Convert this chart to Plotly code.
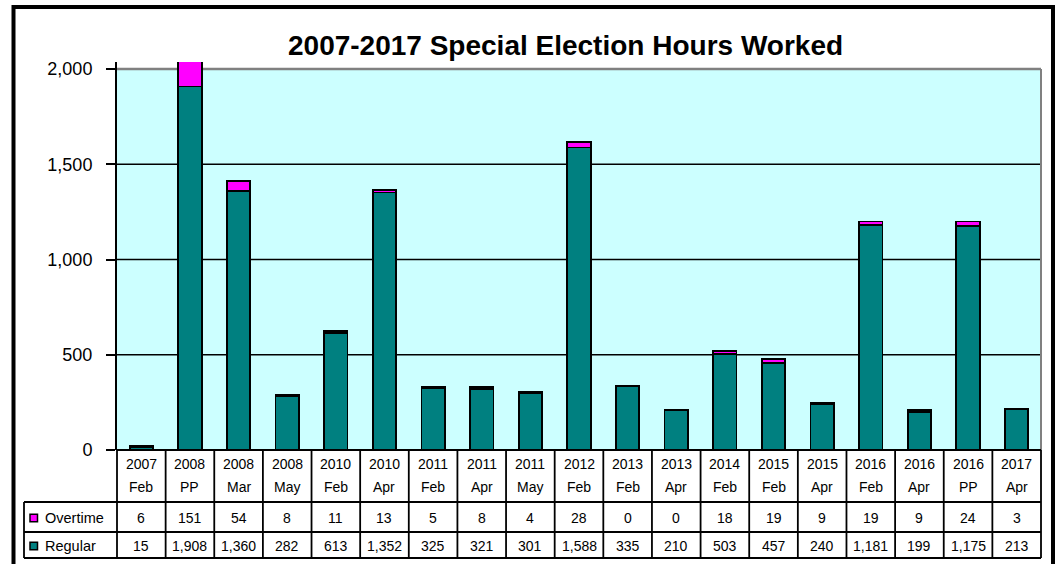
import plotly.graph_objects as go

# Election periods (two-line labels) and hours worked
years = ["2007", "2008", "2008", "2008", "2010", "2010", "2011", "2011", "2011", "2012",
         "2013", "2013", "2014", "2015", "2015", "2016", "2016", "2016", "2017"]
months = ["Feb", "PP", "Mar", "May", "Feb", "Apr", "Feb", "Apr", "May", "Feb",
          "Feb", "Apr", "Feb", "Feb", "Apr", "Feb", "Apr", "PP", "Apr"]
overtime = [6, 151, 54, 8, 11, 13, 5, 8, 4, 28, 0, 0, 18, 19, 9, 19, 9, 24, 3]
regular = [15, 1908, 1360, 282, 613, 1352, 325, 321, 301, 1588,
           335, 210, 503, 457, 240, 1181, 199, 1175, 213]
y_ticks = [0, 500, 1000, 1500, 2000]

TEAL = "#008080"
MAGENTA = "#FF00FF"
CYAN = "#CCFFFF"
FONT = "Arial, Liberation Sans, sans-serif"

W, H = 1061, 564
PL, PR, PT, PB = 117, 1041, 62, 450          # plot area in pixels
Y_TOP = 2000 * (PB - PT) / (PB - 69)        # 2,000 sits at y=69

categories = [f"{y} {m}" for y, m in zip(years, months)]
n = len(categories)


def px_x(x):
    return (x - PL) / (PR - PL)


def px_y(y):
    return (PB - y) / (PB - PT)


fig = go.Figure()
fig.add_bar(x=categories, y=regular, name="Regular", marker_color=TEAL,
            marker_line=dict(color="black", width=1.8), width=0.48)
fig.add_bar(x=categories, y=overtime, name="Overtime", marker_color=MAGENTA,
            marker_line=dict(color="black", width=1.8), width=0.48)

shapes = []
# plot background and grid
shapes.append(dict(type="rect", xref="paper", yref="y", x0=0, x1=1, y0=0, y1=2000,
                   fillcolor=CYAN, line_width=0, layer="below"))
for v in y_ticks[1:-1]:
    shapes.append(dict(type="line", xref="paper", yref="y", x0=0, x1=1, y0=v, y1=v,
                       line=dict(color="black", width=1.6), layer="below"))
shapes.append(dict(type="line", xref="paper", yref="y", x0=0, x1=1, y0=2000, y1=2000,
                   line=dict(color="#808080", width=2.5), layer="below"))
shapes.append(dict(type="line", xref="paper", yref="y", x0=1, x1=1, y0=0, y1=2000,
                   line=dict(color="#808080", width=2), layer="below"))

# data table grid
row_top, row_ot, row_reg, row_bot = 450, 502, 532, 558
leg_left = 24
line_style = dict(color="black", width=1.8)
for i in range(n + 1):
    xp = i / n
    shapes.append(dict(type="line", xref="paper", yref="paper", x0=xp, x1=xp,
                       y0=px_y(row_top), y1=px_y(row_bot), line=line_style))
shapes.append(dict(type="line", xref="paper", yref="paper", x0=px_x(leg_left), x1=px_x(leg_left),
                   y0=px_y(row_ot), y1=px_y(row_bot), line=line_style))
for yy in (row_ot, row_reg, row_bot):
    shapes.append(dict(type="line", xref="paper", yref="paper", x0=px_x(leg_left), x1=1,
                       y0=px_y(yy), y1=px_y(yy), line=line_style))
shapes.append(dict(type="line", xref="paper", yref="paper", x0=0, x1=1,
                   y0=0, y1=0, line=line_style))

# legend keys in the table
for yy, col in ((518, MAGENTA), (546, TEAL)):
    shapes.append(dict(type="rect", xref="paper", yref="paper",
                       x0=px_x(30), x1=px_x(37.5), y0=px_y(yy + 3.75), y1=px_y(yy - 3.75),
                       fillcolor=col, line=dict(color="black", width=1.5)))

# outer chart border
shapes.append(dict(type="rect", xref="paper", yref="paper",
                   x0=px_x(13.5), x1=px_x(1053), y0=px_y(580), y1=px_y(7),
                   line=dict(color="black", width=4), fillcolor="rgba(0,0,0,0)"))

annotations = []
tfont = dict(family=FONT, size=14, color="black")
for c, yr, mo, ot, rg in zip(categories, years, months, overtime, regular):
    annotations.append(dict(xref="x", yref="paper", x=c, y=px_y(464), text=yr,
                            showarrow=False, font=tfont, yanchor="middle"))
    annotations.append(dict(xref="x", yref="paper", x=c, y=px_y(487), text=mo,
                            showarrow=False, font=tfont, yanchor="middle"))
    annotations.append(dict(xref="x", yref="paper", x=c, y=px_y(518), text=f"{ot:,}",
                            showarrow=False, font=tfont, yanchor="middle"))
    annotations.append(dict(xref="x", yref="paper", x=c, y=px_y(546), text=f"{rg:,}",
                            showarrow=False, font=tfont, yanchor="middle"))
for yy, name in ((518, "Overtime"), (546, "Regular")):
    annotations.append(dict(xref="paper", yref="paper", x=px_x(43), y=px_y(yy), text=name,
                            showarrow=False, xanchor="left", yanchor="middle",
                            font=dict(family=FONT, size=14.5, color="black")))

annotations.append(dict(xref="paper", yref="paper", x=px_x(565.5), y=px_y(46),
                        text="<b>2007-2017 Special Election Hours Worked</b>",
                        showarrow=False, xanchor="center", yanchor="middle",
                        font=dict(family=FONT, size=28, color="black")))

fig.update_layout(
    width=W, height=H,
    margin=dict(l=PL, r=W - PR, t=PT, b=H - PB, pad=0),
    barmode="stack",
    showlegend=False,
    paper_bgcolor="white",
    plot_bgcolor="white",
    shapes=shapes,
    annotations=annotations,
    xaxis=dict(range=[-0.5, n - 0.5], showticklabels=False, ticks="",
               showgrid=False, zeroline=False, showline=False),
    yaxis=dict(range=[0, Y_TOP], tickvals=y_ticks, tickformat=",",
               ticks="outside", ticklen=9, tickwidth=1.5, tickcolor="black",
               showline=True, linecolor="black", linewidth=2,
               showgrid=False, zeroline=False, ticklabelstandoff=10,
               tickfont=dict(family=FONT, size=18, color="black")),
)

fig.write_html("out.html")
